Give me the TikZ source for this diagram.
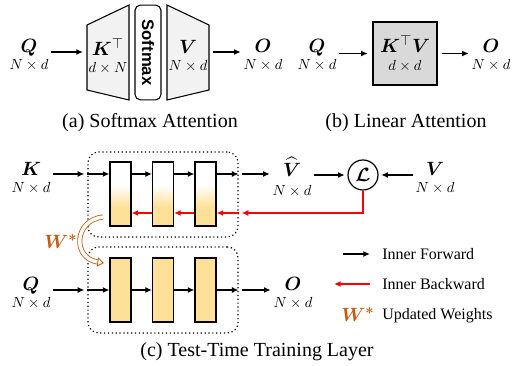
\documentclass[tikz,border=0pt]{standalone}
\usepackage{amsmath}
\usepackage{amssymb}
\usepackage{bm}
\usepackage{fontspec}
\setmainfont{Liberation Serif}
\newfontfamily\arialfont{Liberation Sans}
\usetikzlibrary{arrows.meta}
\usetikzlibrary{calc}
\definecolor{blockfill}{RGB}{255,224,153}
\definecolor{wstar}{RGB}{197,90,17}
\definecolor{trapfill}{RGB}{242,242,242}
\definecolor{kvfill}{RGB}{217,217,217}
\pgfdeclareverticalshading{fadeup}{100bp}{color(0bp)=(blockfill); color(40bp)=(blockfill); color(57bp)=(white); color(100bp)=(white)}
\newcommand{\dimtext}[1]{{\fontsize{10.5}{11}\selectfont$#1$}}

\begin{document}
\begin{tikzpicture}[x=0.75pt, y=-0.75pt,
    fwd/.style={line width=1.1pt, -{Latex[length=5pt, width=4.5pt]}},
    bwd/.style={line width=1.1pt, red, -{Latex[length=5pt, width=4.5pt]}},
    lbl/.style={align=center, inner sep=2pt, font=\fontsize{15}{13}\selectfont},
    trap/.style={draw, fill=trapfill, line width=0.8pt},
    captext/.style={font=\fontsize{15}{18}\selectfont},
    leg/.style={anchor=west, inner sep=0pt, font=\fontsize{12}{14}\selectfont},
    blk/.style={draw, line width=0.8pt, minimum width=15.75pt, minimum height=48pt, inner sep=0pt},
    grp/.style={draw, dotted, line width=0.9pt, rounded corners=8pt, minimum width=112.5pt, inner sep=0pt}]
  \useasboundingbox (0,0) rectangle (515,366);

  % (a)
  \node[lbl] (qa) at (29,55) {$\bm{Q}$\\\dimtext{N\times d}};
  \draw[trap] (87,25) -- (129,5) -- (129,100) -- (87,90) -- cycle;
  \node[lbl] (kt) at (108,56) {$\bm{K}^{\top}$\\\dimtext{d\times N}};
  \coordinate (ktw) at (83,52);
  \node[draw, rounded corners=4pt, line width=0.8pt, minimum width=71pt, minimum height=19.5pt, inner sep=0pt, rotate=-90, font=\arialfont\bfseries\fontsize{12.5}{14}\selectfont] (sm) at (148,52.5) {Softmax};
  \draw[trap] (167,5) -- (209,25) -- (209,90) -- (167,100) -- cycle;
  \node[lbl] (va) at (188,56) {$\bm{V}$\\\dimtext{N\times d}};
  \coordinate (vae) at (213,52);
  \node[lbl] (oa) at (263,55) {$\bm{O}$\\\dimtext{N\times d}};
  \draw[fwd] (qa.east |- ktw) -- (ktw);
  \draw[fwd] (vae) -- (oa.west |- vae);
  \node[captext] (capa) at (150,123) {(a) Softmax Attention};

  % (b)
  \node[lbl] (qb) at (317,55) {$\bm{Q}$\\\dimtext{N\times d}};
  \node[draw, fill=kvfill, line width=0.9pt, minimum width=48pt, minimum height=47.25pt, align=center, font=\fontsize{15}{13}\selectfont] (kv) at (405,53.5) {$\bm{K}^{\top}\bm{V}$\\\dimtext{d\times d}};
  \node[lbl] (ob) at (491,55) {$\bm{O}$\\\dimtext{N\times d}};
  \draw[fwd, shorten >=3.5pt] (qb.east |- kv) -- (kv.west);
  \draw[fwd, shorten <=3.5pt] (kv.east) -- (ob.west |- kv);
  \node[captext] (capb) at (406,123) {(b) Linear Attention};

  % (c)
  \coordinate (fr) at (0,174);
  \coordinate (br) at (0,213);
  \coordinate (fl) at (0,290);
  \node[grp, minimum height=63.75pt] (ugrp) at (163,194.5) {};
  \node[grp, minimum height=64.5pt] (lgrp) at (163,290) {};
  \foreach \i/\x in {1/120.5, 2/163, 3/205.5} {
    \node[blk, shade, shading=fadeup] (u\i) at (\x,194) {};
    \node[blk, fill=blockfill] (l\i) at (\x,290) {};
  }
  \node[lbl] (kc) at (31,178) {$\bm{K}$\\\dimtext{N\times d}};
  \node[lbl] (vh) at (292,177) {$\widehat{\bm{V}}$\\[1pt]\dimtext{N\times d}};
  \node[circle, draw, line width=0.9pt, minimum size=22.5pt, inner sep=0pt, font=\fontsize{14}{14}\selectfont] (loss) at (363,175) {$\bm{\mathcal{L}}$};
  \node[lbl] (vc) at (435,178) {$\bm{V}$\\\dimtext{N\times d}};
  \node[lbl] (qc) at (31,293) {$\bm{Q}$\\\dimtext{N\times d}};
  \node[lbl] (oc) at (293,293) {$\bm{O}$\\\dimtext{N\times d}};

  \draw[fwd, shorten >=2.25pt] (kc.east |- fr) -- (ugrp.west |- fr);
  \draw[fwd] (ugrp.west |- fr) -- (u1.west |- fr);
  \draw[fwd] (u1.east |- fr) -- (u2.west |- fr);
  \draw[fwd] (u2.east |- fr) -- (u3.west |- fr);
  \draw[fwd] (u3.east |- fr) -- (ugrp.east |- fr);
  \draw[fwd, shorten <=2.25pt] (ugrp.east |- fr) -- (vh.west |- fr);
  \draw[fwd, shorten >=2pt] (vh.east |- loss) -- (loss.west);
  \draw[fwd, shorten >=2pt] (vc.west |- loss) -- (loss.east);
  \draw[bwd, shorten >=2.25pt] (loss.south) |- (ugrp.east |- br);
  \draw[bwd] (ugrp.east |- br) -- (u3.east |- br);
  \draw[bwd] (u3.west |- br) -- (u2.east |- br);
  \draw[bwd] (u2.west |- br) -- (u1.east |- br);

  \draw[fwd, shorten >=2.25pt] (qc.east |- fl) -- (lgrp.west |- fl);
  \draw[fwd] (lgrp.west |- fl) -- (l1.west |- fl);
  \draw[fwd] (l1.east |- fl) -- (l2.west |- fl);
  \draw[fwd] (l2.east |- fl) -- (l3.west |- fl);
  \draw[fwd] (l3.east |- fl) -- (lgrp.east |- fl);
  \draw[fwd, shorten <=2.25pt] (lgrp.east |- fl) -- (oc.west |- fl);

  \node[text=wstar, font=\fontsize{15}{15}\selectfont] (wc) at (61,242) {$\bm{W^{*}}$};
  \coordinate (wfrom) at (103,217);
  \coordinate (wto) at (104,263);
  \draw[wstar, line width=0.6pt, double=white, double distance=2.6pt, -{Triangle[open, fill=white, length=5pt, width=7pt]}] (wfrom) .. controls (74,220) and (72,258) .. (wto);

  % legend
  \node[leg] (tf) at (382,254) {Inner Forward};
  \node[leg] (tb) at (382,284) {Inner Backward};
  \node[leg] (tw) at (382,316) {Updated Weights};
  \coordinate (lf1) at (343,254);
  \coordinate (lb1) at (370,284);
  \draw[fwd, shorten >=9pt] (lf1) -- (lf1 -| tf.west);
  \draw[bwd] (lb1) -- ([xshift=-27pt]lb1);
  \node[text=wstar, font=\fontsize{15}{15}\selectfont] (wl) at (358,315) {$\bm{W^{*}}$};

  \node[captext] (capc) at (257,352) {(c) Test-Time Training Layer};
\end{tikzpicture}
\end{document}
